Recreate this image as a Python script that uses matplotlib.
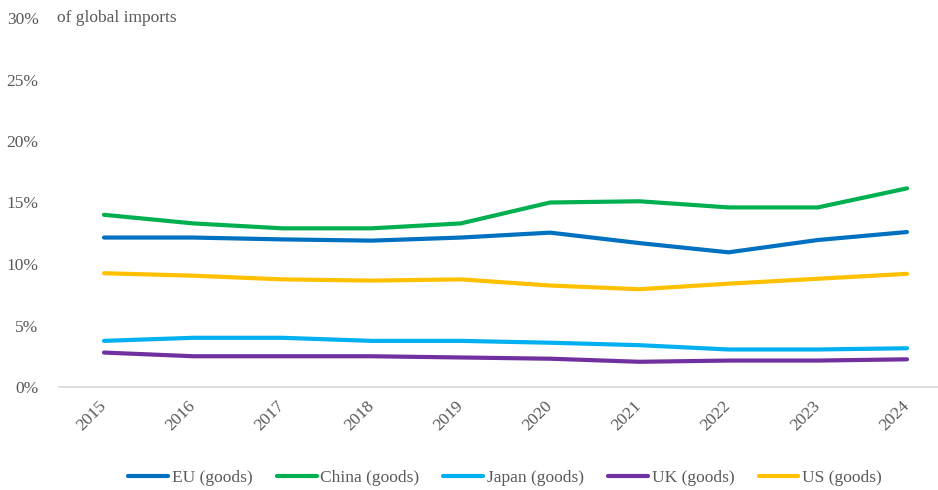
import matplotlib
matplotlib.use('Agg')
import matplotlib.pyplot as plt
from matplotlib.ticker import FuncFormatter

years = ['2015', '2016', '2017', '2018', '2019', '2020', '2021', '2022', '2023', '2024']
eu = [12.15, 12.15, 12.0, 11.9, 12.15, 12.55, 11.7, 10.95, 11.95, 12.6]
china = [14.0, 13.3, 12.9, 12.9, 13.3, 15.0, 15.1, 14.6, 14.6, 16.15]
japan = [3.75, 4.0, 4.0, 3.75, 3.75, 3.6, 3.4, 3.05, 3.05, 3.15]
uk = [2.8, 2.5, 2.5, 2.5, 2.4, 2.3, 2.05, 2.15, 2.15, 2.25]
us = [9.25, 9.05, 8.75, 8.65, 8.75, 8.25, 7.95, 8.4, 8.8, 9.2]

series = [('EU (goods)', eu, '#0070C0'),
          ('China (goods)', china, '#00B050'),
          ('Japan (goods)', japan, '#00B0F0'),
          ('UK (goods)', uk, '#7030A0'),
          ('US (goods)', us, '#FFC000')]

plt.rcParams['font.family'] = ['Liberation Serif', 'DejaVu Serif']
txt = '#595959'
fs = 12.5

fig = plt.figure(figsize=(9.38, 4.90), dpi=100)
ax = fig.add_axes([59.4 / 938, 103 / 490, 892.2 / 938, 369 / 490])

x = list(range(len(years)))
for name, vals, col in series:
    ax.plot(x, vals, color=col, lw=3, label=name, solid_capstyle='round')

ax.set_xlim(-0.5, 9.5)
ax.set_ylim(0, 30)
ax.set_yticks([0, 5, 10, 15, 20, 25, 30])
ax.yaxis.set_major_formatter(FuncFormatter(lambda v, p: f'{v:.0f}%'))
ax.set_xticks(x)
ax.set_xticklabels(years, rotation=45, ha='right', va='center', rotation_mode='anchor')

for s in ['top', 'right', 'left']:
    ax.spines[s].set_visible(False)
ax.spines['bottom'].set_color('#D9D9D9')
ax.spines['bottom'].set_linewidth(1.2)
ax.tick_params(axis='both', length=0, labelsize=fs, labelcolor=txt)
ax.tick_params(axis='y', pad=15)
ax.tick_params(axis='x', pad=12)

ax.text(-0.003, 30, 'of global imports', transform=ax.get_yaxis_transform(),
        ha='left', va='center', fontsize=fs, color=txt)

leg = fig.legend(loc='center', bbox_to_anchor=(505 / 938, 12 / 490), ncol=5,
                 frameon=False, fontsize=fs, handlelength=2.3, handletextpad=0.2,
                 columnspacing=1.4, borderaxespad=0)
for t in leg.get_texts():
    t.set_color(txt)

fig.savefig('out.png', dpi=100)
